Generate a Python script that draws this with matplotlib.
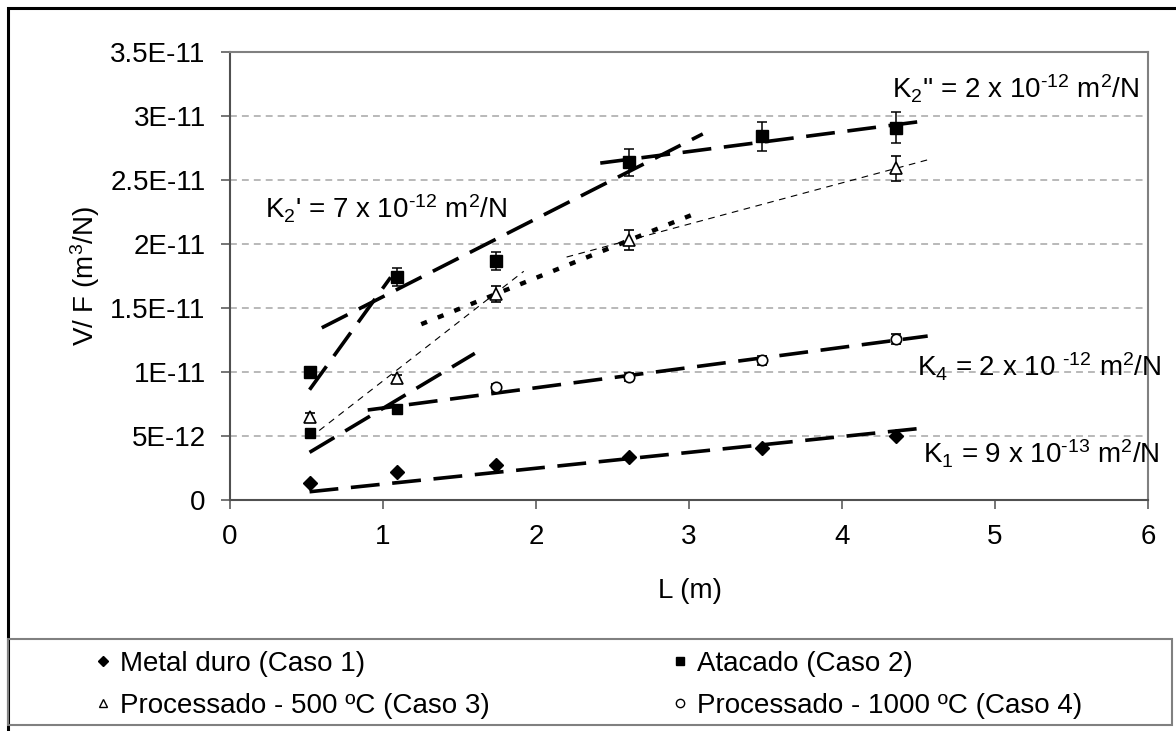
import numpy as np
import matplotlib.pyplot as plt
from matplotlib.patches import Rectangle
from matplotlib.lines import Line2D

plt.rcParams['font.family'] = ['Liberation Sans', 'DejaVu Sans']
plt.rcParams['mathtext.fontset'] = 'custom'
plt.rcParams['mathtext.rm'] = 'Liberation Sans'
plt.rcParams['mathtext.it'] = 'Liberation Sans:italic'
plt.rcParams['mathtext.bf'] = 'Liberation Sans:bold'

# comprimento de deslizamento L (m)
L = [0.52, 1.09, 1.74, 2.61, 3.48, 4.35]
L3 = [0.52, 1.09, 1.74, 2.61, 4.35]

# V/F em unidades de 1E-12 m3/N
caso1 = [1.33, 2.19, 2.73, 3.36, 4.06, 5.0]
caso2 = [10.0, 17.4, 18.7, 26.4, 28.4, 29.1]
caso2_err = [0.0, 0.7, 0.7, 1.05, 1.1, 1.2]
caso3 = [6.5, 9.5, 16.1, 20.3, 25.9]
caso3_err = [0.3, 0.3, 0.6, 0.8, 1.0]
caso4 = [5.2, 7.1, 8.8, 9.6, 10.9, 12.6]
caso4_err = [0.0, 0.0, 0.3, 0.3, 0.35, 0.4]

legendas = ["Metal duro (Caso 1)", "Atacado (Caso 2)",
            "Processado - 500 ºC (Caso 3)", "Processado - 1000 ºC (Caso 4)"]
yticks = [0, 5, 10, 15, 20, 25, 30, 35]
ytick_labels = ["0", "5E-12", "1E-11", "1.5E-11", "2E-11", "2.5E-11", "3E-11", "3.5E-11"]

s = 1e-12
W, H = 1176, 731
hif = "\u2010"  # hifen, como no original

fig = plt.figure(figsize=(W / 100, H / 100), dpi=100)
ax = fig.add_axes([230 / W, (H - 500) / H, (1148 - 230) / W, (500 - 52) / H])


def reta(xs, ys, origem, x0, x1, estilo):
    xs = np.array(xs)
    ys = np.array(ys)
    if origem:
        a = np.sum(xs * ys) / np.sum(xs * xs)
        b = 0.0
    else:
        a, b = np.polyfit(xs, ys, 1)
    xx = np.array([x0, x1])
    ax.plot(xx, (a * xx + b) * s, color='k', solid_capstyle='butt',
            dash_capstyle='butt', zorder=2, **estilo)


grosso = dict(lw=2.6, dashes=(8, 3.5))
fino = dict(lw=0.8, dashes=(6, 5))
pontos = dict(lw=3.2, dashes=(1.4, 2.6))

# linhas de tendencia
reta(L, caso1, True, 0.52, 4.55, grosso)
reta(L[:2], caso2[:2], True, 0.52, 1.05, grosso)
reta(L[1:4], caso2[1:4], False, 0.6, 3.09, grosso)
reta(L[3:], caso2[3:], False, 2.42, 4.55, grosso)
reta(L3[:3], caso3[:3], True, 0.52, 1.92, fino)
reta(L3[2:4], caso3[2:4], False, 1.25, 3.08, pontos)
reta(L3[3:], caso3[3:], False, 2.2, 4.56, fino)
reta(L[:2], caso4[:2], True, 0.52, 1.6, grosso)
reta(L[1:], caso4[1:], False, 0.9, 4.56, grosso)

eb = dict(ls='none', ecolor='k', elinewidth=1.1, capsize=3.4, capthick=1.1, zorder=4)
ax.plot(L, np.array(caso1) * s, 'D', color='k', ms=7, zorder=5)
ax.errorbar(L, np.array(caso2) * s, yerr=np.array(caso2_err) * s, marker='s',
            mfc='k', mec='k', ms=8.5, **eb)
ax.errorbar(L3, np.array(caso3) * s, yerr=np.array(caso3_err) * s, marker='^',
            mfc='white', mec='k', mew=1.2, ms=8, **eb)
ax.errorbar(L[2:], np.array(caso4[2:]) * s, yerr=np.array(caso4_err[2:]) * s, marker='o',
            mfc='white', mec='k', mew=1.2, ms=7.5, **eb)
ax.plot(L[:2], np.array(caso4[:2]) * s, 's', color='k', ms=6.5, zorder=5)

ax.set_xlim(0, 6)
ax.set_ylim(0, 35 * s)
ax.set_xticks(range(7))
ax.set_yticks(np.array(yticks) * s)
ax.set_yticklabels(ytick_labels)
ax.tick_params(axis='both', labelsize=20, direction='out', length=6.5, width=1.1,
               color='#505050', pad=11)
ax.yaxis.grid(True, color='#a6a6a6', lw=1.1, dashes=(4.5, 3.3))
ax.set_axisbelow(True)
for lado in ['left', 'bottom']:
    ax.spines[lado].set_color('#505050')
    ax.spines[lado].set_linewidth(1.5)
for lado in ['top', 'right']:
    ax.spines[lado].set_color('#808080')
    ax.spines[lado].set_linewidth(1.5)

fs = 20
ax.text(0.229, 22.03 * s, "K$_2$' = 7 x 10$^{" + hif + "12}$ m$^2$/N", fontsize=fs,
        va='baseline')
ax.text(4.33, 31.4 * s, "K$_2$'' = 2 x 10$^{" + hif + "12}$ m$^2$/N", fontsize=fs,
        va='baseline')
ax.text(4.49, 9.61 * s, "K$_4$ = 2 x 10 $^{" + hif + "12}$ m$^2$/N", fontsize=fs,
        va='baseline', clip_on=False)
ax.text(4.53, 2.89 * s, "K$_1$ = 9 x 10$^{" + hif + "13}$ m$^2$/N", fontsize=fs,
        va='baseline', clip_on=False)

fig.text(85 / W, 1 - 276 / H, "V/ F (m$^3$/N)", rotation=90, ha='center', va='center',
         fontsize=fs)
fig.text(690 / W, 1 - 591 / H, "L (m)", ha='center', va='center', fontsize=fs)

# moldura externa e caixa da legenda
fig.patches.append(Rectangle((8 / W, -0.1), 1.2, 1 - 8 / H + 0.1, transform=fig.transFigure,
                             fill=False, ec='k', lw=2.2))
fig.patches.append(Rectangle((8 / W, (H - 725) / H), (1172 - 8) / W, (725 - 639) / H,
                             transform=fig.transFigure, fill=False, ec='#808080', lw=1.5))

handles = [
    Line2D([], [], ls='none', marker='D', color='k', ms=5),
    Line2D([], [], ls='none', marker='^', mfc='white', mec='k', mew=1, ms=6),
    Line2D([], [], ls='none', marker='s', color='k', ms=6),
    Line2D([], [], ls='none', marker='o', mfc='white', mec='k', mew=1, ms=6),
]
rotulos = [legendas[0], legendas[2], legendas[1], legendas[3]]
fig.legend(handles, rotulos, ncol=2, loc='upper left',
           bbox_to_anchor=(97.5 / W, 1 - 651 / H), frameon=False, fontsize=fs,
           borderpad=0, borderaxespad=0, handlelength=0.4, handletextpad=0.4,
           columnspacing=6.66, labelspacing=0.56)

fig.savefig("out.png", dpi=100, facecolor='white')
